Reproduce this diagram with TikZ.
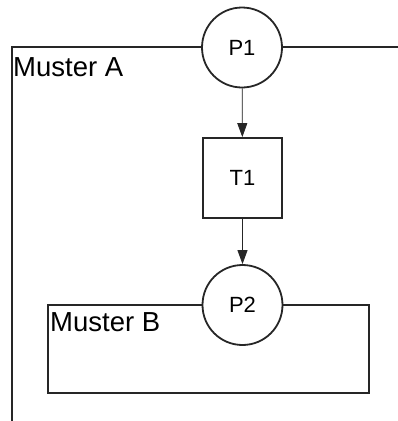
\documentclass[tikz,border=0pt]{standalone}
\usepackage{fontspec}
\setmainfont{Liberation Sans}
\usetikzlibrary{arrows.meta}
\begin{document}
\begin{tikzpicture}[x=1pt,y=-1pt,
  frame/.style={draw=black!85, line width=2pt},
  place/.style={circle, draw=black!85, line width=1.8pt, fill=white, minimum size=80pt, inner sep=0pt, font=\fontsize{22}{25}\selectfont},
  trans/.style={rectangle, draw=black!85, line width=1.8pt, fill=white, minimum width=79pt, minimum height=80pt, inner sep=0pt, font=\fontsize{22}{25}\selectfont},
  pnarc/.style={-{Triangle[length=14pt,width=10pt]}, line width=0.8pt, draw=black!85, fill=black!85},
  lbl/.style={anchor=base west, inner sep=0pt, font=\fontsize{27.5}{31}\selectfont}]
\useasboundingbox (0,0) rectangle (398,421);
% Muster A frame (open to right and bottom)
\coordinate (aTR) at (400,47);
\coordinate (aTL) at (12,47);
\coordinate (aBL) at (12,423);
\draw[frame] (aTR) -- (aTL) -- (aBL);
\node[lbl] (labA) at (13,76) {Muster A};
% Muster B box
\node[frame, rectangle, minimum width=321pt, minimum height=88pt, inner sep=0pt] (boxB) at (208.5,349) {};
\node[lbl] (labB) at (50,331) {Muster B};
% places and transition
\node[place] (p1) at (242,47.5) {P1};
\node[trans] (t1) at (242.5,178) {T1};
\node[place] (p2) at (242.5,305) {P2};
\draw[pnarc] (p1) -- (t1);
\draw[pnarc] (t1) -- (p2);
\end{tikzpicture}
\end{document}
